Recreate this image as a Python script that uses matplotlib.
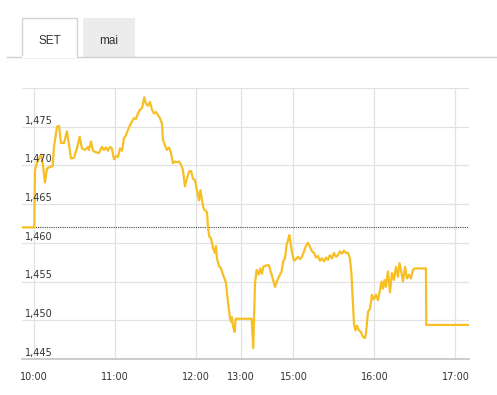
# ==========================================
# plot.py
# SET index intraday chart
# ==========================================

import matplotlib
matplotlib.use("Agg")
import matplotlib.pyplot as plt
from matplotlib.patches import Rectangle
from matplotlib.lines import Line2D

# ==========================================
# DATA
# ==========================================

# trading minutes on a compressed session axis (lunch break removed)
minutes = [
    -9, 0, 0.5, 2.0, 5.0, 6.4, 7.9, 9.4, 11.6, 13.6, 14.6, 16.8, 18.3, 19.8,
    22.0, 24.2, 27.2, 29.4, 31.6, 33.6, 35.3, 37.6, 39.8, 40.5, 42.0, 43.5,
    45.7, 47.9, 50.1, 51.6, 53.1, 54.6, 56.1, 57.5, 59.0, 60.5, 62.0, 63.5,
    65.0, 66.4, 67.9, 69.4, 70.9, 72.4, 73.8, 75.3, 76.8, 78.3, 79.8, 81.5,
    82.7, 84.2, 85.7, 87.2, 88.7, 90.1, 91.6, 93.1, 94.6, 95.3, 96.8, 98.3,
    99.8, 101.3, 102.7, 104.2, 105.7, 107.2, 108.7, 110.1, 111.6, 113.1,
    114.6, 116.1, 117.5, 119.0, 120.5, 122.0, 123.1, 124.2, 125.3, 126.4,
    127.9, 128.7, 129.6, 130.9, 132.4, 133.8, 134.6, 135.3, 136.8, 138.3,
    139.8, 141.3, 142.0, 143.0, 144.2, 145.0, 145.7, 146.4, 147.2, 148.4,
    149.2, 161.0, 162.2, 163.5, 164.7, 166.2, 167.4, 168.7, 169.6, 172.1,
    173.8, 175.8, 178.3, 180.1, 182.0, 183.2, 184.4, 185.7, 186.9, 188.1,
    188.9, 189.6, 190.9, 192.4, 193.8, 195.3, 196.8, 198.3, 199.8, 201.2,
    202.7, 204.2, 205.7, 207.2, 208.7, 210.1, 211.6, 213.1, 214.6, 216.1,
    217.5, 219.0, 220.5, 222.0, 223.5, 225.0, 226.4, 227.9, 229.4, 230.9,
    232.4, 233.8, 234.9, 236.0, 236.8, 237.9, 239.0, 240.5, 242.0, 243.3,
    245.0, 245.7, 247.2, 248.7, 250.1, 251.6, 253.1, 254.6, 256.1, 257.2,
    258.3, 259.4, 260.5, 262.0, 263.5, 264.9, 266.4, 267.9, 269.4, 270.5,
    271.6, 273.1, 274.6, 276.1, 277.5, 279.0, 280.5, 282.0, 290.1, 290.4,
    321.3,
]

index_values = [
    1462.0, 1462.0, 1469.4, 1470.3, 1471.4, 1470.1, 1467.8, 1469.6, 1469.8,
    1469.9, 1472.4, 1475.0, 1475.1, 1472.9, 1472.9, 1474.4, 1470.9, 1471.0,
    1472.2, 1473.7, 1472.2, 1472.0, 1472.4, 1472.0, 1473.1, 1471.9, 1471.7,
    1471.6, 1472.4, 1472.0, 1472.3, 1471.9, 1472.4, 1472.2, 1470.8, 1471.2,
    1471.1, 1472.2, 1471.9, 1473.5, 1473.9, 1474.6, 1475.2, 1475.7, 1476.1,
    1476.0, 1476.7, 1477.2, 1477.4, 1478.8, 1478.0, 1477.7, 1478.2, 1477.2,
    1476.7, 1476.9, 1476.5, 1476.1, 1475.4, 1473.3, 1472.6, 1472.0, 1472.3,
    1471.6, 1470.3, 1470.5, 1470.4, 1470.5, 1470.1, 1469.4, 1467.3, 1468.3,
    1469.2, 1469.3, 1468.3, 1468.1, 1466.8, 1465.5, 1466.8, 1465.5, 1464.5,
    1464.2, 1464.0, 1461.9, 1460.8, 1460.6, 1459.3, 1458.7, 1459.6, 1458.0,
    1457.0, 1456.7, 1455.9, 1455.2, 1454.8, 1453.1, 1451.3, 1450.3, 1449.8,
    1450.4, 1449.2, 1448.5, 1450.2, 1450.2, 1446.4, 1454.8, 1456.5, 1455.9,
    1456.7, 1456.0, 1456.9, 1457.1, 1457.1, 1455.9, 1454.3, 1455.2, 1455.9,
    1456.3, 1457.6, 1458.0, 1459.7, 1460.4, 1461.0, 1460.4, 1458.7, 1457.7,
    1457.9, 1458.2, 1457.9, 1458.2, 1458.9, 1459.6, 1460.0, 1459.5, 1458.9,
    1458.7, 1458.1, 1458.3, 1457.7, 1458.0, 1457.6, 1458.1, 1457.8, 1458.4,
    1458.0, 1458.7, 1458.2, 1458.4, 1458.9, 1458.6, 1459.0, 1458.7, 1458.7,
    1458.0, 1456.1, 1452.2, 1449.6, 1448.7, 1449.3, 1448.7, 1448.5, 1447.9,
    1447.7, 1448.3, 1451.1, 1451.5, 1453.3, 1452.7, 1453.3, 1452.6, 1453.9,
    1455.0, 1454.1, 1455.2, 1454.3, 1456.3, 1453.6, 1456.1, 1455.2, 1456.9,
    1455.6, 1457.4, 1456.5, 1455.0, 1456.9, 1455.4, 1455.9, 1455.4, 1456.5,
    1456.7, 1456.7, 1449.4, 1449.4,
]

prev_close = 1462.0

time_ticks = [0, 60, 120, 153, 192, 252, 312]
time_labels = ["10:00", "11:00", "12:00", "13:00", "15:00", "16:00", "17:00"]

value_ticks = [1445, 1450, 1455, 1460, 1465, 1470, 1475]
value_labels = ["1,445", "1,450", "1,455", "1,460", "1,465", "1,470", "1,475"]

tab_labels = ["SET", "mai"]

# ==========================================
# FIGURE
# ==========================================

W, H = 497, 395
fig = plt.figure(figsize=(W / 100, H / 100), dpi=100)


def px(x, y):
    # pixel position (top-left origin) -> figure fraction
    return x / W, 1 - y / H


# ==========================================
# TABS
# ==========================================

fig.add_artist(Line2D([7 / W, 1], [1 - 57 / H] * 2, color="#cfcfcf",
                      lw=1, transform=fig.transFigure))

x0, y0 = px(22, 57)
fig.add_artist(Rectangle((x0, y0), 55 / W, 39 / H, transform=fig.transFigure,
                         facecolor="white", edgecolor="#d4d4d4", lw=1))
fig.add_artist(Line2D([x0 + 0.6 / W, x0 + 54.4 / W], [y0, y0], color="white",
                      lw=1.5, transform=fig.transFigure))

x1, y1 = px(83, 57)
fig.add_artist(Rectangle((x1, y1), 52 / W, 39 / H, transform=fig.transFigure,
                         facecolor="#ececec", edgecolor="none"))

fig.text(*px(49.5, 41), tab_labels[0], ha="center", va="center",
         fontsize=8.5, color="#333333", family="Liberation Sans")
fig.text(*px(109, 41), tab_labels[1], ha="center", va="center",
         fontsize=8.5, color="#333333", family="Liberation Sans")

# ==========================================
# CHART
# ==========================================

ax = fig.add_axes([22 / W, 1 - 359 / H, 446.7 / W, 271 / H])

ax.set_xlim(-9.1, 321.8)
ax.set_ylim(1445, 1480)

for t in time_ticks:
    ax.axvline(t, color="#e2e2e2", lw=0.9, zorder=0)
for v in value_ticks[1:] + [1480]:
    ax.axhline(v, color="#e2e2e2", lw=0.9, zorder=0)

ax.axhline(prev_close, color="#444444", lw=0.8, ls=(0, (1, 1)), zorder=1)

ax.plot(minutes, index_values, color="#F7BF24", lw=1.6, zorder=2,
        solid_joinstyle="round")

for v, lab in zip(value_ticks, value_labels):
    ax.text(-7.0, v + 0.15, lab, ha="left", va="bottom", fontsize=7,
            color="#333333")

ax.set_xticks(time_ticks)
ax.set_xticklabels(time_labels, fontsize=7, color="#333333")
ax.tick_params(axis="x", length=0, pad=9)
ax.set_yticks([])

for side in ["top", "left", "right"]:
    ax.spines[side].set_visible(False)
ax.spines["bottom"].set_color("#c4c4c4")
ax.spines["bottom"].set_linewidth(1.2)

plt.savefig("out.png", dpi=100)
